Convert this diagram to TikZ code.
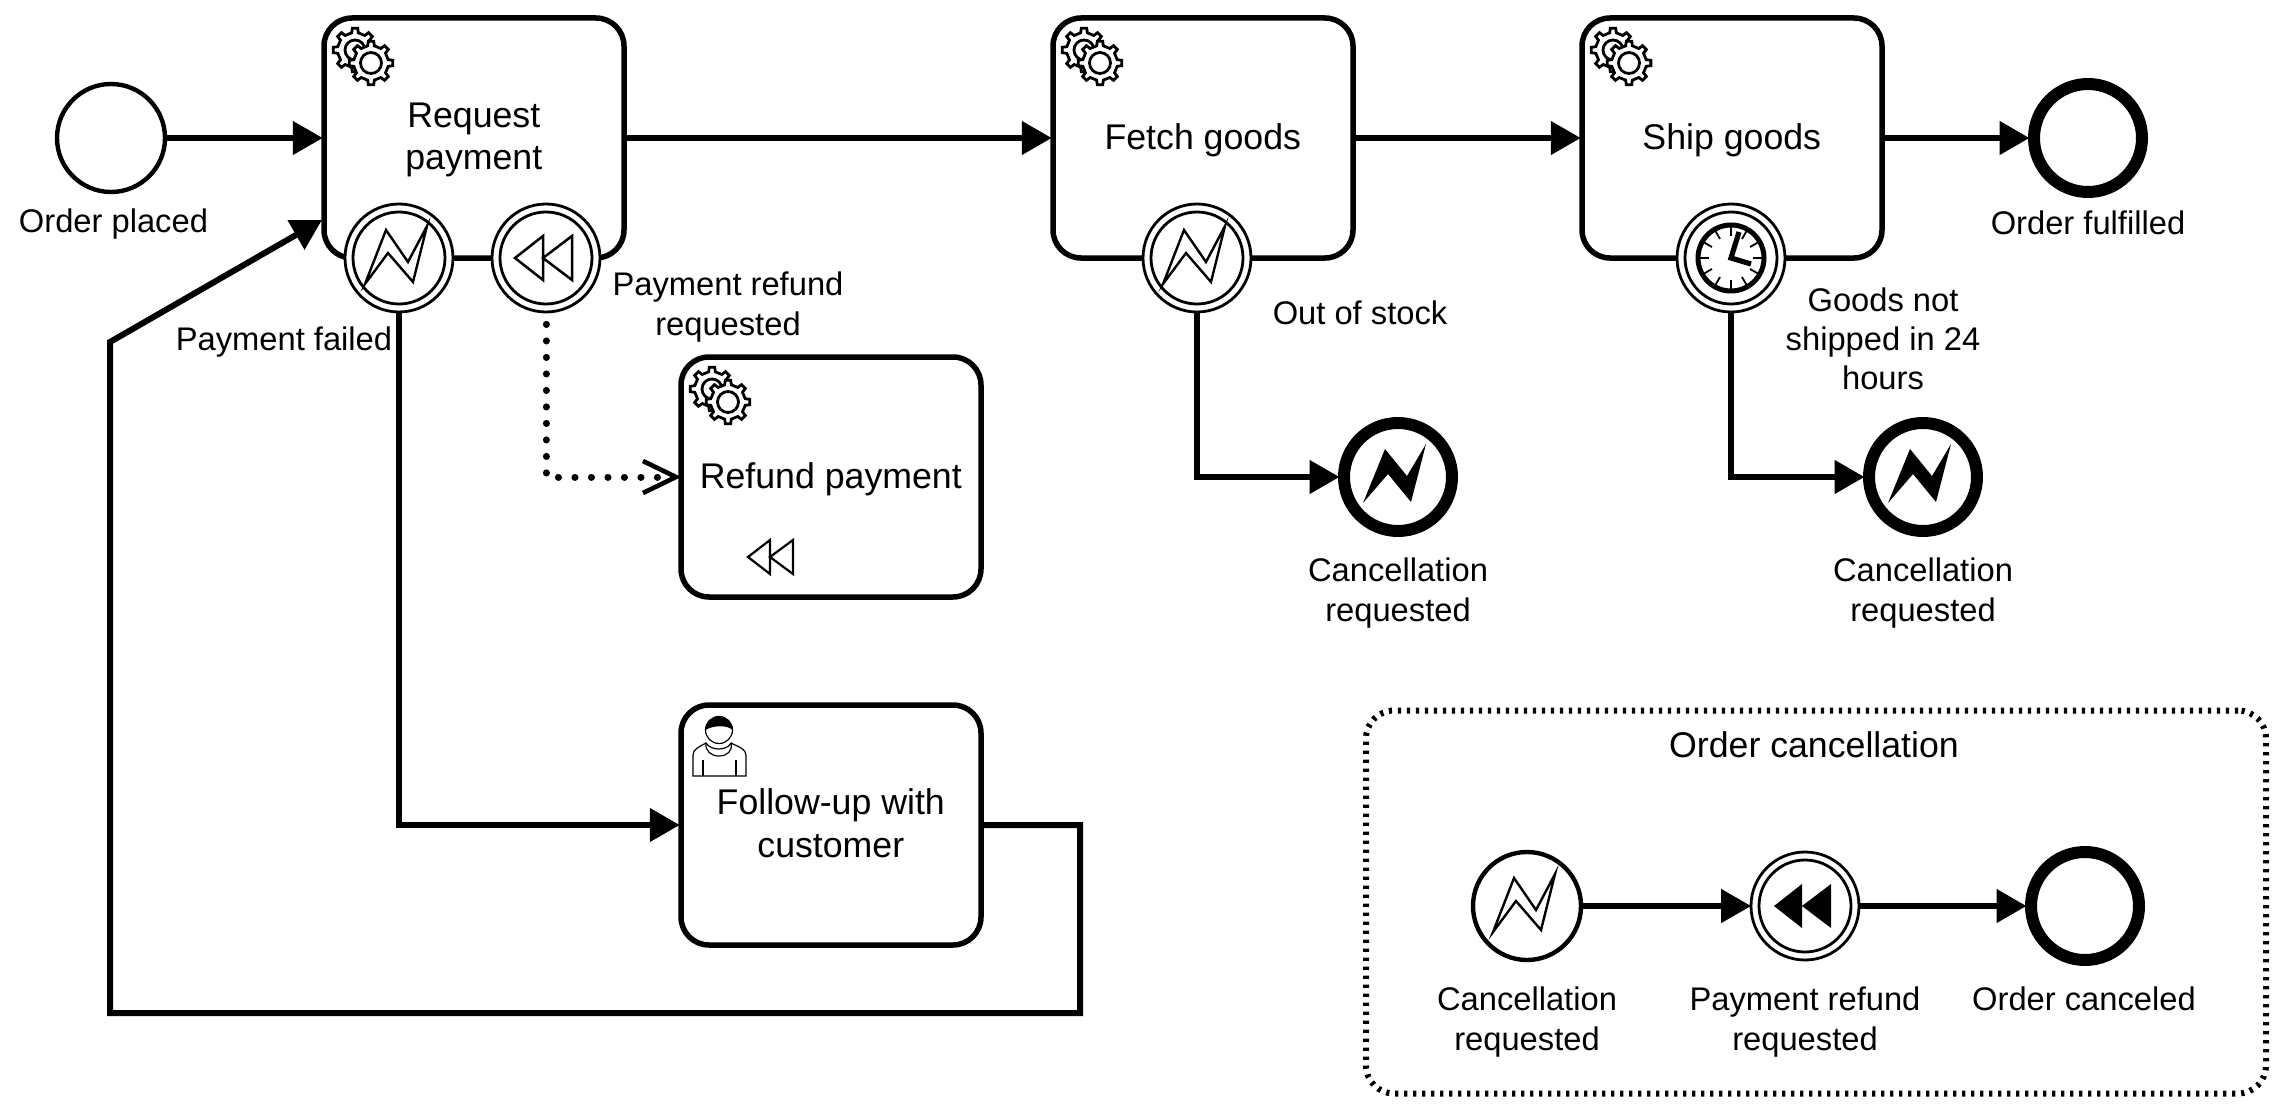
\documentclass[tikz,border=0pt]{standalone}
\usepackage{fontspec}
\setmainfont{Liberation Sans}
\usetikzlibrary{arrows.meta,calc}
\tikzset{
  x=0.5pt,y=-0.5pt,
  taskbox/.style={draw,fill=white,line width=2.75pt,rounded corners=14pt,minimum width=150pt,minimum height=120pt,inner sep=0pt},
  tasktext/.style={inner sep=0pt,align=center,xshift=-0.1pt,yshift=-1pt,font=\fontsize{17.85}{21.4}\selectfont},
  startev/.style={circle,draw,fill=white,line width=2.2pt,minimum size=54pt,inner sep=0pt},
  endev/.style={circle,draw,fill=white,line width=6pt,minimum size=54pt,inner sep=0pt},
  bndev/.style={circle,draw,fill=white,line width=1.4pt,minimum size=54pt,inner sep=0pt},
  lbl/.style={inner sep=0pt,align=center,font=\fontsize{16.35}{19.6}\selectfont},
  title/.style={inner sep=0pt,align=center,font=\fontsize{17.85}{21.4}\selectfont},
  flow/.style={line width=3pt,shorten >=-0.75pt,-{Triangle[length=15pt,width=16.3pt]}},
  loopflow/.style={line width=3pt,line join=miter,-{Triangle[length=15pt,width=16.3pt]}},
  msgflow/.style={line width=3.5pt,line cap=round,dash pattern=on 0.05pt off 8.2pt,shorten <=5.5pt,shorten >=-1.5pt,-{Straight Barb[length=16.5pt,width=16pt,line width=2.3pt]}},
  iconline/.style={line width=1.4pt,line join=miter},
  gearpic/.pic={
    \draw[iconline,fill=white] \foreach \a [count=\i] in {0,45,...,315}{
      \ifnum\i=1 (\a-11:17.5) \else -- (\a-11:17.5) \fi -- (\a-7:22) -- (\a+7:22) -- (\a+11:17.5)
    } -- cycle;
  },
  gearspic/.pic={
    \begin{scope}[shift={(31,32)}]
      \pic {gearpic};
      \draw[iconline] (0,0) circle (10);
    \end{scope}
    \begin{scope}[shift={(47,45)}]
      \pic {gearpic};
      \draw[iconline,fill=white] (0,0) circle (10.5);
    \end{scope}
  },
  boltopen/.pic={
    \draw[line width=1.2pt,line join=miter,fill=white] (-34,26) -- (-13,-28) -- (9,4) -- (28,-32) -- (14,24) -- (-11,-5) -- cycle;
  },
  boltfill/.pic={
    \fill (-35,26) -- (-13,-28) -- (9,-1) -- (28,-33) -- (13,25) -- (-10,-3) -- cycle;
  },
  rewindopen/.pic={
    \draw[line width=1.25pt,line join=miter] (-3,-22) -- (-31,0) -- (-3,22) -- cycle (26,-22) -- (-3,0) -- (26,22) -- cycle;
  },
  rewindfill/.pic={
    \fill (-3,-22) -- (-31,0) -- (-3,22) -- cycle (26,-22) -- (-3,0) -- (26,22) -- cycle;
  },
  rewindsmall/.pic={
    \draw[line width=1.1pt,line join=miter] (-1,-17) -- (-23,0) -- (-1,17) -- cycle (22,-17) -- (-1,0) -- (22,17) -- cycle;
  },
  clockpic/.pic={
    \draw[line width=2.5pt] (0,0) circle (33);
    \foreach \a in {0,30,...,330}{\draw[line width=0.9pt] (\a:31) -- (\a:22);}
    \draw[line width=2.6pt,line join=miter] (8,-26) -- (0,0) -- (20,6);
  },
  userpic/.pic={
    \draw[line width=0.6pt,fill=white] (10,71) -- (10,50) .. controls (10,44) and (16,42) .. (23,38) .. controls (28,46) and (44,46) .. (48,38) .. controls (56,42) and (63,44) .. (63,50) -- (63,71) -- cycle;
    \draw[line width=0.6pt,fill=white] (36,25) circle (13.5);
    \fill (22.5,25) arc (180:360:13.5) .. controls (45,20) and (30,20) .. (22.5,25) -- cycle;
    \draw[line width=0.6pt] (23,38) .. controls (22,46) and (28,51) .. (36,51) .. controls (44,51) and (50,46) .. (48,38);
    \draw[line width=0.6pt] (20,55) -- (20,71) (53,55) -- (53,71);
  }
}
\begin{document}
\begin{tikzpicture}
\useasboundingbox[fill=white] (0,0) rectangle (2283,1113);

% group
\node[draw,line width=3pt,dash pattern=on 1.6pt off 2.9pt,rounded corners=14pt,minimum width=450pt,minimum height=191.5pt,inner sep=0pt] (grp) at (1816,902) {};

% events & tasks
\node[startev] (start) at (111,138) {};
\node[taskbox,label={[tasktext]center:Request\\payment}] (req) at (474,138) {};
\node[taskbox,label={[tasktext]center:Fetch goods}] (fetch) at (1203,138) {};
\node[taskbox,label={[tasktext]center:Ship goods}] (ship) at (1732,138) {};
\node[endev] (fulfilled) at (2088,138) {};
\node[taskbox,label={[tasktext]center:Refund payment}] (refund) at (831,477) {};
\node[taskbox,label={[tasktext,yshift=1.75pt]center:Follow-up with\\customer}] (follow) at (831,825) {};
\node[bndev] (bfail) at (399,258) {};
\node[bndev] (brefund) at (546,258) {};
\node[bndev] (bstock) at (1197,258) {};
\node[bndev] (btimer) at (1731,258) {};
\node[endev] (ecan1) at (1398,477) {};
\node[endev] (ecan2) at (1923,477) {};
\node[startev] (gcan) at (1527,906) {};
\node[bndev] (grefund) at (1805,906) {};
\node[endev] (gend) at (2085,906) {};

% inner rings
\foreach \n in {bfail,brefund,bstock,btimer,grefund}{
  \draw[line width=1.4pt] (\n.center) circle (46);
}

% icons
\foreach \n in {req,fetch,ship,refund}{
  \pic at ($(\n.center)+(-150,-120)$) {gearspic};
}
\pic at ($(follow.center)+(-148,-120)$) {userpic};
\pic at (bfail.center) {boltopen};
\pic at (bstock.center) {boltopen};
\pic at (gcan.center) {boltopen};
\pic at (brefund.center) {rewindopen};
\pic at (grefund.center) {rewindfill};
\pic at (btimer.center) {clockpic};
\pic at (ecan1.center) {boltfill};
\pic at (ecan2.center) {boltfill};
\pic at ($(refund.center)+(-60,80)$) {rewindsmall};

% connectors
\coordinate (reqin) at (322,220);
\coordinate (lf1) at (1080,1013);
\coordinate (lf2) at (110,1013);
\coordinate (lf3) at (110,342);
\draw[flow] (start) -- (req);
\draw[flow] (req.east) -- (req.east -| fetch.west);
\draw[flow] (fetch) -- (ship);
\draw[flow] (ship) -- (fulfilled);
\draw[flow] (bfail.south) |- (follow.west);
\draw[loopflow] (follow.east) -| (lf1) -- (lf2) -- (lf3) -- (reqin);
\draw[msgflow] (brefund.south) |- (refund.west);
\draw[flow] (bstock.south) |- (ecan1.west);
\draw[flow] (btimer.south) |- (ecan2.west);
\draw[flow] (gcan) -- (grefund);
\draw[flow] (grefund) -- (gend);

% labels
\node[lbl] (l1) at (113.5,224.5) {Order placed};
\node[lbl] (l2) at (284,342) {Payment failed};
\node[lbl] (l3) at (728,307) {Payment refund\\requested};
\node[lbl] (l4) at (1360,313) {Out of stock};
\node[lbl] (l5) at (1883,339) {Goods not\\shipped in 24\\hours};
\node[lbl] (l6) at (2088,223) {Order fulfilled};
\node[lbl] (l7) at (1398,593) {Cancellation\\requested};
\node[lbl] (l8) at (1923,593) {Cancellation\\requested};
\node[title] (l9) at (1814,745) {Order cancellation};
\node[lbl] (l10) at (1527,1022) {Cancellation\\requested};
\node[lbl] (l11) at (1805,1022) {Payment refund\\requested};
\node[lbl] (l12) at (2084,999) {Order canceled};
\end{tikzpicture}
\end{document}
